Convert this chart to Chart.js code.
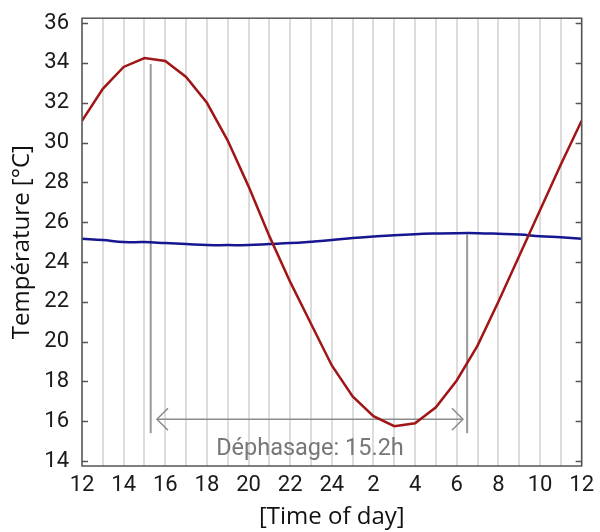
<!DOCTYPE html>
<html>
<head>
<meta charset="utf-8">
<script src="https://cdn.jsdelivr.net/npm/chart.js@4"></script>
<style>
  html, body { margin: 0; padding: 0; background: #fff; }
  #wrap { width: 600px; height: 532px; }
</style>
</head>
<body>
<div id="wrap"><canvas id="my-chart"></canvas></div>
<script>
// hours counted from noon (0 = 12h, 12 = 24h, 24 = 12h next day)
const hours = [0, 1, 2, 3, 4, 5, 6, 7, 8, 9, 10, 11, 12, 13, 14, 15, 16, 17, 18, 19, 20, 21, 22, 23, 24];
const outsideTemp = [31.1, 32.7, 33.8, 34.25, 34.1, 33.3, 32.0, 30.1, 27.8, 25.3, 23.0, 20.9, 18.8,
  17.25, 16.25, 15.75, 15.9, 16.7, 18.05, 19.8, 22.0, 24.3, 26.6, 28.9, 31.1];
const insideTemp = [25.17, 25.1, 25.0, 25.0, 24.95, 24.9, 24.85, 24.85, 24.85, 24.9, 24.95, 25.02, 25.1,
  25.2, 25.28, 25.35, 25.4, 25.43, 25.45, 25.45, 25.42, 25.38, 25.3, 25.24, 25.17];

const xTicks = [0, 2, 4, 6, 8, 10, 12, 14, 16, 18, 20, 22, 24];
const xTickLabels = ['12', '14', '16', '18', '20', '22', '24', '2', '4', '6', '8', '10', '12'];
const yTicks = [14, 16, 18, 20, 22, 24, 26, 28, 30, 32, 34, 36];

// phase shift markers
const maxOutside = { x: 3.3, yTop: 33.95, yBottom: 15.4 };
const maxInside = { x: 18.5, yTop: 25.4, yBottom: 15.4 };
const arrowY = 16.1;
const arrowLeft = 3.6;
const arrowRight = 18.3;
const phaseLabel = 'Déphasage: 15.2h';
const phaseLabelY = 14.6;

const gridHours = hours;

const framePlugin = {
  id: 'frame',
  afterDraw(chart) {
    const { ctx, chartArea: a, scales } = chart;
    ctx.save();
    ctx.strokeStyle = '#555';
    ctx.lineWidth = 1.5;
    ctx.strokeRect(a.left, a.top, a.right - a.left, a.bottom - a.top);
    ctx.beginPath();
    yTicks.forEach(v => {
      const y = Math.round(scales.y.getPixelForValue(v)) + 0.5;
      ctx.moveTo(a.left, y); ctx.lineTo(a.left + 6, y);
      ctx.moveTo(a.right, y); ctx.lineTo(a.right - 6, y);
    });
    ctx.stroke();
    // label of the phase shift
    ctx.fillStyle = '#777';
    ctx.font = '23.5px Roboto';
    ctx.textAlign = 'center';
    ctx.textBaseline = 'middle';
    const xm = scales.x.getPixelForValue((arrowLeft + arrowRight) / 2);
    ctx.fillText(phaseLabel, xm, scales.y.getPixelForValue(phaseLabelY));
    ctx.restore();
  }
};

const gray = 'rgba(140,140,140,1)';
const ctx = document.getElementById('my-chart').getContext('2d');
const chart = new Chart(ctx, {
  type: 'line',
  data: {
    datasets: [
      {
        label: 'outside',
        data: hours.map((h, i) => ({ x: h, y: outsideTemp[i] })),
        borderColor: '#a01515',
        borderWidth: 2.5,
        pointRadius: 0,
        tension: 0
      },
      {
        label: 'inside',
        data: hours.map((h, i) => ({ x: h, y: insideTemp[i] })),
        borderColor: '#161690',
        borderWidth: 2.5,
        pointRadius: 0,
        tension: 0.4
      },
      {
        data: [{ x: maxOutside.x, y: maxOutside.yTop }, { x: maxOutside.x, y: maxOutside.yBottom }],
        borderColor: '#999', borderWidth: 2, pointRadius: 0
      },
      {
        data: [{ x: maxInside.x, y: maxInside.yTop }, { x: maxInside.x, y: maxInside.yBottom }],
        borderColor: '#999', borderWidth: 2, pointRadius: 0
      },
      {
        data: [{ x: arrowLeft, y: arrowY }, { x: arrowRight, y: arrowY }],
        borderColor: gray, borderWidth: 1.5, pointRadius: 0
      },
      {
        data: [{ x: arrowLeft + 0.53, y: arrowY + 0.55 }, { x: arrowLeft, y: arrowY }, { x: arrowLeft + 0.53, y: arrowY - 0.55 }],
        borderColor: gray, borderWidth: 1.5, pointRadius: 0
      },
      {
        data: [{ x: arrowRight - 0.53, y: arrowY + 0.55 }, { x: arrowRight, y: arrowY }, { x: arrowRight - 0.53, y: arrowY - 0.55 }],
        borderColor: gray, borderWidth: 1.5, pointRadius: 0
      }
    ]
  },
  options: {
    responsive: true,
    maintainAspectRatio: false,
    animation: false,
    layout: { padding: { top: 17, right: 17, left: 0, bottom: 0 } },
    plugins: { legend: { display: false }, tooltip: { enabled: false } },
    scales: {
      x: {
        type: 'linear',
        min: 0,
        max: 24,
        afterBuildTicks: s => { s.ticks = gridHours.map(v => ({ value: v })); },
        afterFit: s => { s.height = 66; },
        ticks: {
          autoSkip: false,
          maxRotation: 0,
          padding: 6,
          color: '#1a1a1a',
          font: { family: 'Roboto', size: 22 },
          callback: v => {
            const i = xTicks.indexOf(v);
            return i >= 0 ? xTickLabels[i] : '';
          }
        },
        grid: { color: '#dcdcdc', lineWidth: 2, drawTicks: false },
        border: { display: false },
        title: {
          display: true,
          text: '[Time of day]',
          color: '#111',
          font: { family: 'Open Sans', size: 24 },
          padding: { top: 0, bottom: 0 }
        }
      },
      y: {
        min: 13.75,
        max: 36.25,
        afterBuildTicks: s => { s.ticks = yTicks.map(v => ({ value: v })); },
        afterFit: s => { s.width = 82; },
        ticks: {
          padding: 5,
          color: '#1a1a1a',
          font: { family: 'Roboto', size: 22 }
        },
        grid: { display: false },
        border: { display: false },
        title: {
          display: true,
          text: 'Température [°C]',
          color: '#111',
          font: { family: 'Open Sans', size: 24 },
          padding: { top: 8, bottom: 8 }
        }
      }
    }
  },
  plugins: [framePlugin]
});
</script>
</body>
</html>
